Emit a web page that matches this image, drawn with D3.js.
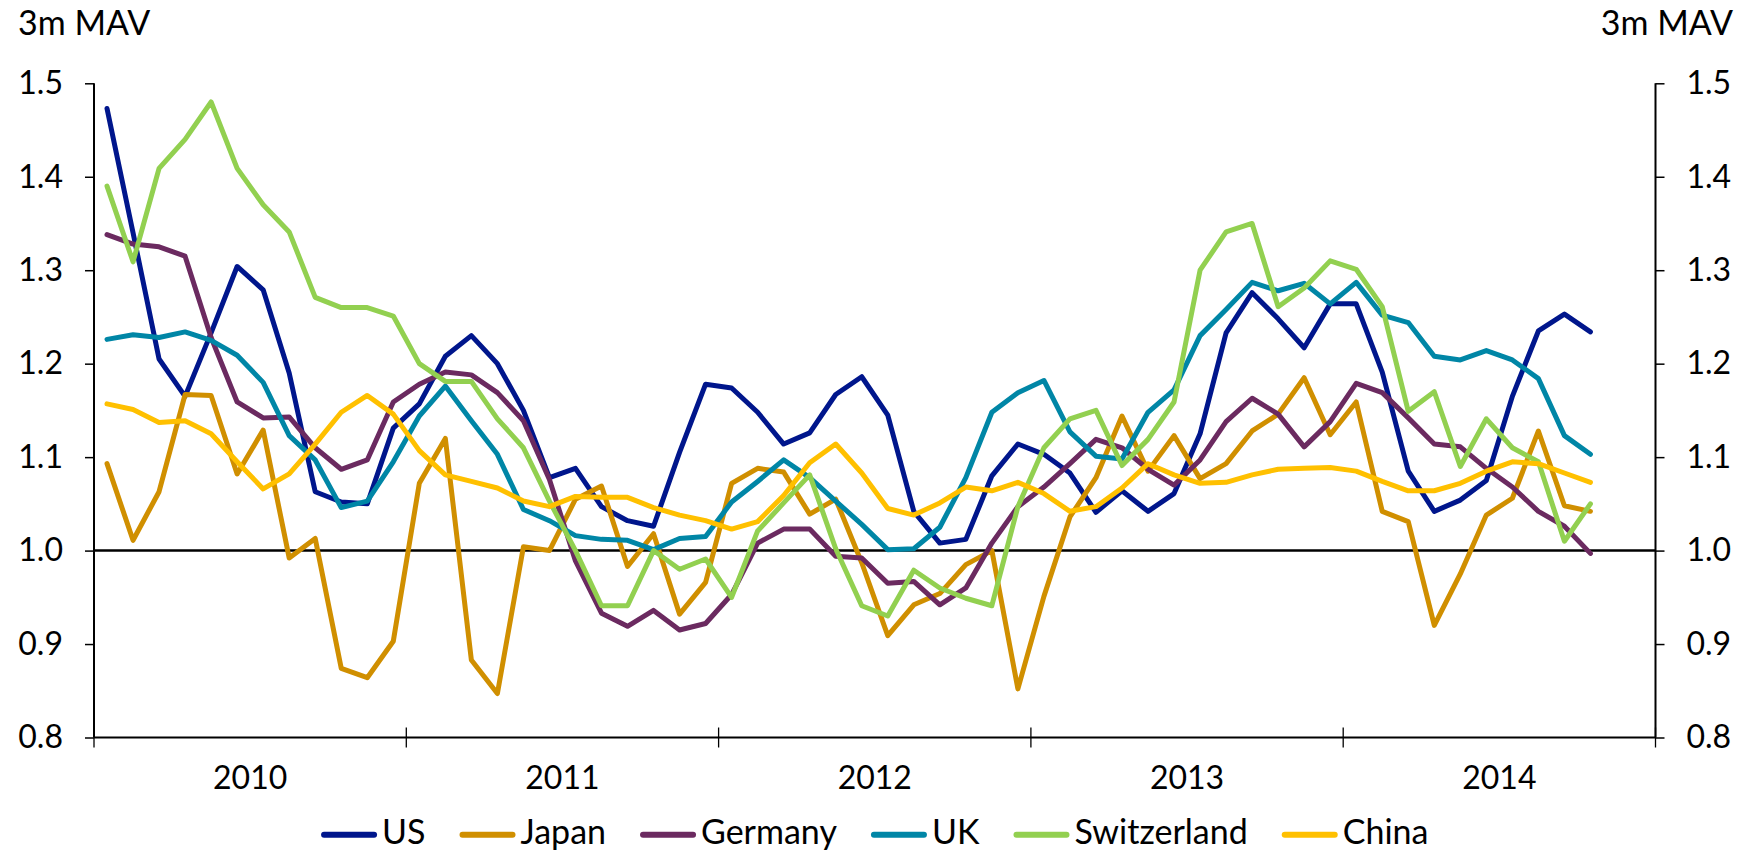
<!DOCTYPE html>
<html>
<head>
<meta charset="utf-8">
<script src="https://cdn.jsdelivr.net/npm/d3@7"></script>
<style>
  html, body { margin: 0; padding: 0; background: #fff; }
  svg { display: block; }
  text { font-family: Lato, "Open Sans", sans-serif; fill: #000; }
</style>
</head>
<body>
<svg id="chart" width="1747" height="852"></svg>
<script>
// ---- Data (monthly, 3m moving average), Jan 2010 – Oct 2014 ----
const years = [2010, 2011, 2012, 2013, 2014];
const yTicks = [0.8, 0.9, 1.0, 1.1, 1.2, 1.3, 1.4, 1.5];
const seriesNames = ["US", "Japan", "Germany", "UK", "Switzerland", "China"];
const seriesColors = ["#00168C", "#D08F00", "#6B2A60", "#0086A6", "#92D050", "#FFC000"];

const US = [1.473, 1.340, 1.205, 1.165, 1.233, 1.304, 1.279, 1.190, 1.063, 1.052, 1.050,
  1.131, 1.157, 1.208, 1.230, 1.200, 1.150, 1.078, 1.088, 1.047, 1.032, 1.026,
  1.105, 1.178, 1.174, 1.148, 1.114, 1.126, 1.167, 1.186, 1.145, 1.042, 1.008,
  1.012, 1.080, 1.114, 1.103, 1.083, 1.041, 1.064, 1.042, 1.061, 1.125, 1.233,
  1.276, 1.248, 1.217, 1.264, 1.264, 1.191, 1.085, 1.042, 1.054, 1.075, 1.165, 1.235, 1.253, 1.234];
const Japan = [1.093, 1.011, 1.063, 1.167, 1.166, 1.082, 1.129, 0.992, 1.013, 0.874, 0.864,
  0.903, 1.072, 1.120, 0.883, 0.847, 1.004, 1.000, 1.055, 1.069, 0.983, 1.018,
  0.932, 0.966, 1.072, 1.088, 1.084, 1.039, 1.055, 0.987, 0.909, 0.942, 0.954,
  0.985, 1.000, 0.852, 0.951, 1.036, 1.078, 1.144, 1.085, 1.123, 1.077, 1.093,
  1.128, 1.146, 1.185, 1.124, 1.159, 1.042, 1.031, 0.920, 0.975, 1.038, 1.056, 1.128, 1.048, 1.042];
const Germany = [1.338, 1.328, 1.325, 1.315, 1.228, 1.159, 1.142, 1.143, 1.110, 1.087, 1.097,
  1.159, 1.178, 1.191, 1.188, 1.169, 1.139, 1.076, 0.989, 0.933, 0.919, 0.936,
  0.915, 0.922, 0.953, 1.008, 1.023, 1.023, 0.994, 0.992, 0.965, 0.967, 0.942,
  0.960, 1.008, 1.047, 1.068, 1.093, 1.119, 1.110, 1.087, 1.070, 1.097, 1.138,
  1.163, 1.146, 1.111, 1.138, 1.179, 1.169, 1.142, 1.114, 1.111, 1.088, 1.068, 1.042, 1.026, 0.997];
const UK = [1.226, 1.231, 1.228, 1.234, 1.225, 1.209, 1.180, 1.123, 1.097, 1.046, 1.053,
  1.095, 1.144, 1.176, 1.139, 1.103, 1.044, 1.032, 1.016, 1.012, 1.011, 1.001,
  1.013, 1.015, 1.052, 1.074, 1.097, 1.078, 1.053, 1.028, 1.001, 1.002, 1.025,
  1.078, 1.148, 1.169, 1.182, 1.127, 1.101, 1.098, 1.148, 1.172, 1.230, 1.258,
  1.287, 1.278, 1.286, 1.264, 1.287, 1.252, 1.244, 1.208, 1.204, 1.214, 1.204, 1.184, 1.123, 1.103];
const Switzerland = [1.390, 1.309, 1.409, 1.440, 1.480, 1.409, 1.370, 1.341, 1.271, 1.260, 1.260,
  1.251, 1.200, 1.181, 1.181, 1.141, 1.110, 1.053, 1.000, 0.941, 0.941, 1.000,
  0.980, 0.991, 0.950, 1.021, 1.051, 1.081, 1.002, 0.941, 0.930, 0.979, 0.960,
  0.949, 0.941, 1.047, 1.110, 1.141, 1.150, 1.091, 1.119, 1.159, 1.300, 1.341,
  1.350, 1.261, 1.281, 1.310, 1.301, 1.261, 1.149, 1.170, 1.090, 1.141, 1.110, 1.095, 1.010, 1.050];
const China = [1.157, 1.151, 1.137, 1.139, 1.125, 1.095, 1.066, 1.082, 1.114, 1.148, 1.166,
  1.146, 1.107, 1.081, 1.074, 1.067, 1.053, 1.047, 1.058, 1.057, 1.057, 1.046,
  1.038, 1.032, 1.023, 1.031, 1.059, 1.094, 1.114, 1.083, 1.045, 1.038, 1.051,
  1.068, 1.064, 1.073, 1.061, 1.042, 1.047, 1.067, 1.093, 1.081, 1.072, 1.073,
  1.081, 1.087, 1.088, 1.089, 1.085, 1.074, 1.064, 1.064, 1.072, 1.085, 1.095, 1.093, 1.083, 1.073];

const seriesValues = [US, Japan, Germany, UK, Switzerland, China];
const axisTitle = "3m MAV";

// ---- Layout ----
const W = 1747, H = 852;
const plot = { left: 94, right: 1655.5, top: 83.3, bottom: 737.5 };
const svg = d3.select("#chart");
svg.append("rect").attr("width", W).attr("height", H).attr("fill", "#fff");

const allMonths = d3.timeMonth.range(new Date(years[0], 0, 1), new Date(years[years.length - 1] + 1, 0, 1));
const dataMonths = allMonths.slice(0, US.length);

const x = d3.scaleBand().domain(allMonths.map(d => +d)).range([plot.left, plot.right]).paddingInner(0).paddingOuter(0);
const xc = d => x(+d) + x.bandwidth() / 2;
const y = d3.scaleLinear().domain([0.8, 1.5]).range([plot.bottom, plot.top]);

const FS_TICK = 32, FS_YEAR = 32, FS_LEG = 34, FS_TITLE = 34;

// Left axis
const gL = svg.append("g").attr("transform", `translate(${plot.left},0)`)
  .call(d3.axisLeft(y).tickValues(yTicks).tickFormat(d3.format(".1f")).tickSize(9).tickPadding(22));
// Right axis
const gR = svg.append("g").attr("transform", `translate(${plot.right},0)`)
  .call(d3.axisRight(y).tickValues(yTicks).tickFormat(d3.format(".1f")).tickSize(9).tickPadding(22));
[gL, gR].forEach(g => {
  g.select(".domain").attr("stroke", "#000").attr("stroke-width", 2).attr("d", `M0,${plot.top}V${plot.bottom}`);
  g.selectAll(".tick line").attr("stroke", "#000").attr("stroke-width", 1.5);
  g.selectAll(".tick text").attr("font-size", FS_TICK).attr("font-family", "Lato, sans-serif").attr("fill", "#000");
});

// Bottom axis (years at boundaries, labels centered in each year)
const yearStarts = years.map(yr => new Date(yr, 0, 1));
const boundaries = yearStarts.map(d => x(+d)).concat([plot.right]);
const gB = svg.append("g");
gB.append("line").attr("x1", plot.left).attr("x2", plot.right)
  .attr("y1", plot.bottom).attr("y2", plot.bottom).attr("stroke", "#000").attr("stroke-width", 2);
gB.selectAll("line.yt").data(boundaries).join("line").attr("class", "yt")
  .attr("x1", d => d).attr("x2", d => d)
  .attr("y1", plot.bottom - 10).attr("y2", plot.bottom + 10)
  .attr("stroke", "#000").attr("stroke-width", 1.3);
gB.selectAll("text.yl").data(years).join("text").attr("class", "yl")
  .attr("x", (d, i) => (boundaries[i] + boundaries[i + 1]) / 2)
  .attr("y", 789).attr("text-anchor", "middle").attr("font-size", FS_YEAR).text(d => d);

// Reference line at 1.0
svg.append("line").attr("x1", plot.left).attr("x2", plot.right)
  .attr("y1", y(1.0)).attr("y2", y(1.0)).attr("stroke", "#000").attr("stroke-width", 2.5);

// Series lines
const line = d3.line().x((d, i) => xc(dataMonths[i])).y(d => y(d));
seriesValues.forEach((vals, k) => {
  svg.append("path").datum(vals).attr("d", line)
    .attr("fill", "none").attr("stroke", seriesColors[k]).attr("stroke-width", 5)
    .attr("stroke-linejoin", "round").attr("stroke-linecap", "round");
});

// Axis titles
svg.append("text").attr("x", 18).attr("y", 35).attr("font-size", FS_TITLE).text(axisTitle);
svg.append("text").attr("x", 1733).attr("y", 35).attr("text-anchor", "end").attr("font-size", FS_TITLE).text(axisTitle);

// Legend
const lg = svg.append("g");
const swW = 50, capR = 3, swGap = 5, itemGap = 34, legY = 834.7;
let cx = 0;
seriesNames.forEach((name, k) => {
  const g = lg.append("g");
  g.append("line").attr("x1", cx + capR).attr("x2", cx + capR + swW).attr("y1", legY).attr("y2", legY)
    .attr("stroke", seriesColors[k]).attr("stroke-width", 6).attr("stroke-linecap", "round");
  const t = g.append("text").attr("x", cx + 2 * capR + swW + swGap).attr("y", 844.3).attr("font-size", FS_LEG).text(name);
  const w = t.node().getComputedTextLength();
  cx += 2 * capR + swW + swGap + w + itemGap;
});
const totalW = cx - itemGap;
lg.attr("transform", `translate(${(plot.left + plot.right) / 2 - totalW / 2},0)`);
</script>
</body>
</html>
